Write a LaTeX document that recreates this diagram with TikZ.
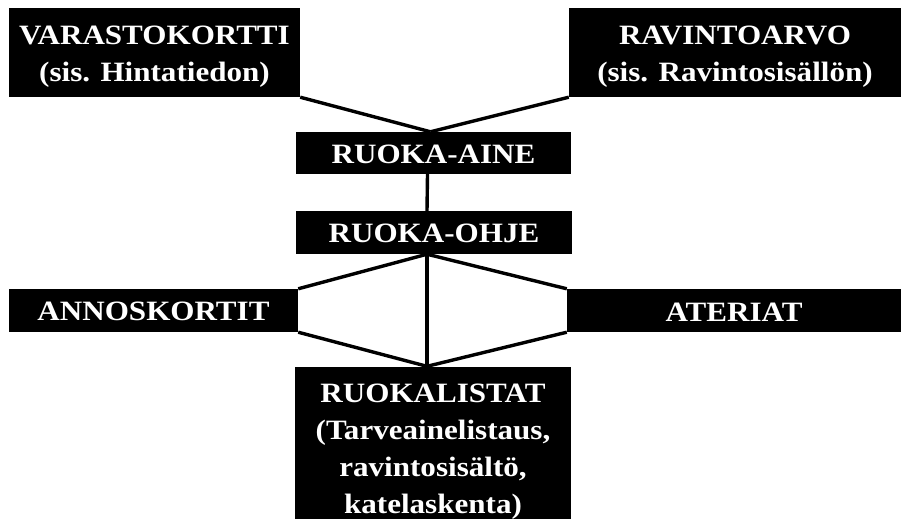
\documentclass[tikz,border=0pt]{standalone}
\usepackage{fontspec}
\newfontfamily\boxfont[FakeStretch=1.11]{Liberation Serif}
\begin{document}
\begin{tikzpicture}[x=1pt,y=-1pt,
    box/.style={fill=black,text=white,inner sep=0pt,align=center,
      font=\boxfont\bfseries\fontsize{28}{37}\selectfont},
    link/.style={line width=3.4pt}]
    \useasboundingbox (0,0) rectangle (901,519);
    % the boxes
    \node[box,minimum width=291pt,minimum height=89pt] (vara) at (154.5,52.5)
          {\rule{0pt}{26pt}VARASTOKORTTI\\(sis. Hintatiedon)};
    \node[box,minimum width=332pt,minimum height=89pt] (ravinto) at (735,52.5)
          {\rule{0pt}{26pt}RAVINTOARVO\\(sis. Ravintosisällön)};
    \node[box,minimum width=275pt,minimum height=42pt] (aine) at (433.5,153)
          {\rule{0pt}{21pt}RUOKA-AINE};
    \node[box,minimum width=276pt,minimum height=43pt] (ohje) at (434,232.5)
          {\rule{0pt}{21pt}RUOKA-OHJE};
    \node[box,minimum width=289pt,minimum height=43pt] (annos) at (153.5,310.5)
          {\rule{0pt}{21pt}ANNOSKORTIT};
    \node[box,minimum width=334pt,minimum height=43pt] (ateriat) at (734,310.5)
          {\rule{0pt}{21pt}ATERIAT};
    \node[box,minimum width=276pt,minimum height=152pt] (lista) at (433,443)
          {\rule{0pt}{36pt}RUOKALISTAT\\(Tarveainelistaus,\\ravintosisältö,\\katelaskenta)};

    % the links
    \draw[link] (vara.south east) to ([xshift=-3pt]aine.north);
    \draw[link] (ravinto.south west) to ([xshift=-3pt]aine.north);
    \draw[link] ([xshift=-6pt]aine.south) to ([xshift=-7pt]ohje.north);
    \draw[link] ([xshift=-7pt]ohje.south) to (annos.north east);
    \draw[link] ([xshift=-7pt]ohje.south) to (ateriat.north west);
    \draw[link] ([xshift=-7pt]ohje.south) to ([xshift=-6pt]lista.north);
    \draw[link] (annos.south east) to ([xshift=-6pt]lista.north);
    \draw[link] (ateriat.south west) to ([xshift=-6pt]lista.north);
\end{tikzpicture}
\end{document}
